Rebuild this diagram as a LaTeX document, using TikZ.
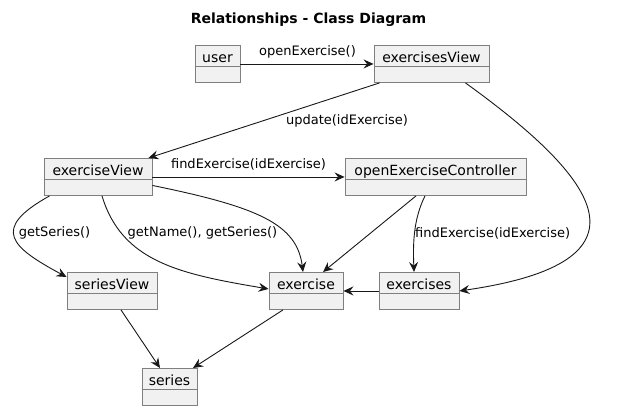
\documentclass[tikz,border=0pt]{standalone}
\usepackage{fontspec}
\setmainfont{DejaVu Sans}
\usetikzlibrary{arrows.meta}
\definecolor{clsfill}{HTML}{F1F1F1}
\definecolor{clsborder}{HTML}{7F7F7F}
\definecolor{edgecol}{HTML}{181818}
\tikzset{
  cls/.style={draw=clsborder, fill=clsfill, line width=0.9pt, inner sep=0pt, minimum height=37pt},
  clsline/.style={draw=clsborder, line width=0.9pt},
  clstext/.style={inner sep=0pt, font=\fontsize{14}{16}\selectfont, text=black},
  lbl/.style={inner sep=0pt, font=\fontsize{13}{15}\selectfont, text=black},
  arr/.style={draw=edgecol, line width=0.9pt, -{Stealth[length=10pt,width=9pt,inset=3.5pt]}},
}
\newcommand\umlclass[5]{%
  \node[cls, minimum width=#4pt, anchor=north] (#1) at (#2,#3) {};
  \draw[clsline] ([yshift=-21pt]#1.north west) -- ([yshift=-21pt]#1.north east);
  \node[clstext, anchor=base] (#1-t) at ([yshift=-17.5pt]#1.north) {#5};
}
\begin{document}
\begin{tikzpicture}[x=1pt,y=-1pt]
\useasboundingbox (0,0) rectangle (628,410);
\node[font=\fontsize{14}{16}\selectfont\bfseries, inner sep=0pt, anchor=base] (title) at (308.5,23) {Relationships - Class Diagram};

\umlclass{user}{217.5}{45}{45}{user}
\umlclass{exercisesView}{431.5}{45}{115}{exercisesView}
\umlclass{exerciseView}{98}{158}{108}{exerciseView}
\umlclass{openExerciseController}{435.5}{158}{181}{openExerciseController}
\umlclass{exercise}{306}{272}{74}{exercise}
\umlclass{exercises}{419}{272}{80}{exercises}
\umlclass{seriesView}{112}{272}{90}{seriesView}
\umlclass{series}{169.5}{368}{55}{series}

% user -> exercisesView
\draw[arr] (user) -- (exercisesView);
\node[lbl] (l1) at (307.5,52) {openExercise()};

% exercisesView -> exerciseView
\draw[arr] ([xshift=6pt]exercisesView.south west) -- ([xshift=-4pt]exerciseView.north east);
\node[lbl] (l2) at (347,121) {update(idExercise)};

% exerciseView -> openExerciseController
\draw[arr] (exerciseView) -- (openExerciseController);
\node[lbl] (l3) at (248.5,164) {findExercise(idExercise)};

% exercisesView -> exercises (big curve)
\draw[arr] ([xshift=-24pt]exercisesView.south east) .. controls (600,180) and (660,262) .. (exercises.east);

% exerciseView -> seriesView
\draw[arr] ([xshift=6pt]exerciseView.south west) .. controls (-10,229) and (11,247) .. ([yshift=-5pt]seriesView.north west);
\node[lbl] (l4) at (54.5,233) {getSeries()};

% exerciseView -> exercise (labelled)
\draw[arr] ([xshift=4pt]exerciseView.south) .. controls (122,262) and (180,274) .. ([yshift=2pt]exercise.west);
\node[lbl] (l5) at (202.5,233) {getName(), getSeries()};

% exerciseView -> exercise (unlabelled)
\draw[arr] ([yshift=-8.5pt]exerciseView.east) .. controls (258,207) and (297,224) .. ([xshift=-3pt]exercise.north);

% openExerciseController -> exercise
\draw[arr] ([xshift=-19.5pt]openExerciseController.south) -- ([xshift=17pt]exercise.north);

% openExerciseController -> exercises
\draw[arr] ([xshift=-10.5pt]openExerciseController.south) .. controls (413,220) and (413,245) .. ([xshift=-5pt]exercises.north);
\node[lbl, anchor=west] (l6) at (415,233) {findExercise(idExercise)};

% exercises -> exercise
\draw[arr] (exercises) -- (exercise);

% seriesView -> series
\draw[arr] ([xshift=9pt]seriesView.south) -- ([xshift=-9.5pt]series.north);

% exercise -> series
\draw[arr] ([xshift=-23pt]exercise.south) -- ([xshift=23.5pt]series.north);
\end{tikzpicture}
\end{document}
